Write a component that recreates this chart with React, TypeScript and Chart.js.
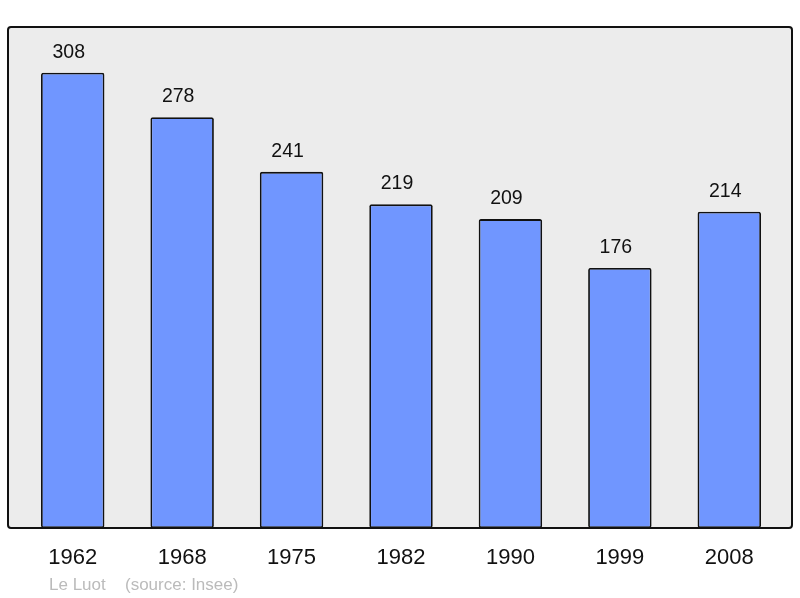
import { useEffect, useRef } from "react"
import { Chart, registerables } from "chart.js"

Chart.register(...registerables)

const years = ["1962", "1968", "1975", "1982", "1990", "1999", "2008"]
const population = [308, 278, 241, 219, 209, 176, 214]
const townName = "Le Luot"
const sourceText = "(source: Insee)"

const FONT = "'Liberation Sans', Arial, sans-serif"

const framePlugin = {
  id: "frame",
  beforeDraw(chart: Chart) {
    const { ctx, chartArea } = chart
    const x0 = chartArea.left - 10
    const x1 = chartArea.right + 8
    const y0 = chartArea.top
    const y1 = chartArea.bottom
    ctx.save()
    ctx.beginPath()
    ctx.roundRect(x0, y0, x1 - x0, y1 - y0, 3)
    ctx.fillStyle = "#ececec"
    ctx.fill()
    ctx.restore()
  },
  afterDatasetsDraw(chart: Chart) {
    const { ctx, chartArea } = chart
    const x0 = chartArea.left - 10
    const x1 = chartArea.right + 8
    const y0 = chartArea.top
    const y1 = chartArea.bottom
    ctx.save()
    ctx.beginPath()
    ctx.roundRect(x0, y0, x1 - x0, y1 - y0, 3)
    ctx.lineWidth = 2
    ctx.strokeStyle = "#111"
    ctx.stroke()

    const xScale = chart.scales.x
    const yScale = chart.scales.y
    ctx.fillStyle = "#111"
    ctx.textAlign = "center"
    ctx.textBaseline = "alphabetic"
    // value labels sit a little left of the bar centre, like the original
    ctx.font = `19.5px ${FONT}`
    population.forEach((v, i) => {
      ctx.fillText(String(v), xScale.getPixelForValue(i) - 4, yScale.getPixelForValue(v) - 15)
    })
    ctx.font = `22px ${FONT}`
    years.forEach((y, i) => {
      ctx.fillText(y, xScale.getPixelForValue(i), y1 + 36)
    })
    ctx.textAlign = "left"
    ctx.font = `17px ${FONT}`
    ctx.fillStyle = "#bbbbbb"
    ctx.fillText(townName, chartArea.left + 31, y1 + 62)
    ctx.fillText(sourceText, chartArea.left + 107, y1 + 62)
    ctx.restore()
  },
}

export default function App() {
  const chartRef = useRef<HTMLCanvasElement>(null)
  const chartInstance = useRef<Chart | null>(null)

  useEffect(() => {
    document.body.style.margin = "0"
    if (!chartRef.current) return
    if (chartInstance.current) chartInstance.current.destroy()

    chartInstance.current = new Chart(chartRef.current, {
      type: "bar",
      data: {
        labels: years,
        datasets: [
          {
            data: population,
            backgroundColor: "#7096ff",
            borderColor: "#111",
            borderWidth: 1.8,
            borderRadius: 2,
            borderSkipped: false,
            barPercentage: 0.58,
            categoryPercentage: 1,
          },
        ],
      },
      options: {
        animation: false,
        responsive: false,
        maintainAspectRatio: false,
        layout: { padding: { left: 18, right: 16, top: 27, bottom: 70 } },
        scales: {
          x: { display: false },
          y: { display: false, min: 0, max: 339 },
        },
        plugins: {
          legend: { display: false },
          tooltip: { enabled: false },
        },
      },
      plugins: [framePlugin],
    })

    return () => {
      if (chartInstance.current) {
        chartInstance.current.destroy()
        chartInstance.current = null
      }
    }
  }, [])

  return (
    <div style={{ width: 800, height: 598 }}>
      <canvas ref={chartRef} width={800} height={598} style={{ display: "block" }}></canvas>
    </div>
  )
}
